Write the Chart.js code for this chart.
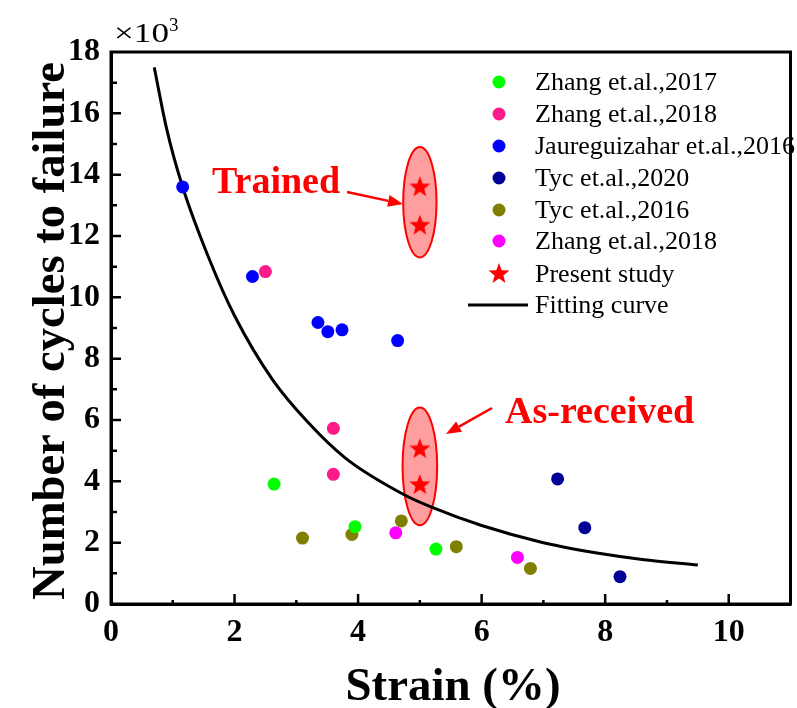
<!DOCTYPE html>
<html>
<head>
<meta charset="utf-8">
<script src="https://cdn.jsdelivr.net/npm/chart.js@4.4.1/dist/chart.umd.min.js"></script>
<style>
  html, body { margin: 0; padding: 0; background: #fff; }
  #wrap { width: 797px; height: 708px; position: relative; }
</style>
</head>
<body>
<div id="wrap"><canvas id="chart-fatigue"></canvas></div>
<script>
// fatigue life vs strain, literature data + present study
const zhang2017X = [2.64, 3.95, 5.26];
const zhang2017Y = [3.91, 2.52, 1.79];
const zhang2018aX = [2.50, 3.60, 3.60];
const zhang2018aY = [10.84, 5.73, 4.23];
const jaureX = [1.16, 2.29, 3.35, 3.51, 3.74, 4.64];
const jaureY = [13.60, 10.68, 9.18, 8.88, 8.94, 8.59];
const tyc2020X = [7.23, 7.67, 8.24];
const tyc2020Y = [4.08, 2.49, 0.89];
const tyc2016X = [3.10, 3.90, 4.70, 5.59, 6.79];
const tyc2016Y = [2.15, 2.27, 2.71, 1.87, 1.16];
const zhang2018bX = [4.61, 6.58];
const zhang2018bY = [2.32, 1.52];
const presentX = [5.0, 5.0, 5.0, 5.0];
const presentY = [13.62, 12.37, 5.08, 3.91];
const fitX = [0.7, 0.9, 1.16, 1.6, 2.0, 2.62, 3.2, 3.8, 4.73, 5.2, 6.0, 7.0, 8.0, 8.6, 9.5];
const fitY = [17.5, 15.5, 13.6, 11.2, 9.4, 7.3, 5.9, 4.75, 3.58, 3.15, 2.56, 2.0, 1.62, 1.45, 1.27];

const X_TICKS = [0, 2, 4, 6, 8, 10];
const Y_TICKS = [0, 2, 4, 6, 8, 10, 12, 14, 16, 18];

const SERIF = '"Liberation Serif", "Times New Roman", serif';

const pts = (xs, ys) => xs.map((x, i) => ({ x, y: ys[i] }));

// filled five-point star used as point style
function makeStar(size, color) {
  const c = document.createElement('canvas');
  c.width = size; c.height = size;
  const g = c.getContext('2d');
  const cx = size / 2, cy = size / 2 + 1, R = size / 2, r = R * 0.42;
  g.beginPath();
  for (let i = 0; i < 10; i++) {
    const rad = i % 2 ? r : R;
    const a = -Math.PI / 2 + i * Math.PI / 5;
    g.lineTo(cx + rad * Math.cos(a), cy + rad * Math.sin(a));
  }
  g.closePath();
  g.fillStyle = color;
  g.fill();
  return c;
}
const STAR = makeStar(22, '#ff0000');

const SERIES = [
  { label: 'Zhang et.al.,2017', color: '#00ff00', data: pts(zhang2017X, zhang2017Y) },
  { label: 'Zhang et.al.,2018', color: '#ff1a8c', data: pts(zhang2018aX, zhang2018aY) },
  { label: 'Jaureguizahar et.al.,2016', color: '#0000ff', data: pts(jaureX, jaureY) },
  { label: 'Tyc et.al.,2020', color: '#000099', data: pts(tyc2020X, tyc2020Y) },
  { label: 'Tyc et.al.,2016', color: '#808000', data: pts(tyc2016X, tyc2016Y) },
  { label: 'Zhang et.al.,2018', color: '#ff00ff', data: pts(zhang2018bX, zhang2018bY) },
];

const datasets = SERIES.map(s => ({
  label: s.label,
  data: s.data,
  backgroundColor: s.color,
  borderColor: s.color,
  pointRadius: 6.5,
  pointHoverRadius: 6.5,
  borderWidth: 0,
  order: 2,
}));
datasets.push({
  label: 'Present study',
  data: pts(presentX, presentY),
  pointStyle: STAR,
  backgroundColor: '#ff0000',
  order: 0,
});
datasets.push({
  label: 'Fitting curve',
  data: pts(fitX, fitY),
  showLine: true,
  borderColor: '#000',
  borderWidth: 3,
  pointRadius: 0,
  cubicInterpolationMode: 'monotone',
  order: 3,
});

function fitText(ctx, text, x, y, width, rot, align) {
  ctx.save();
  ctx.translate(x, y);
  if (rot) ctx.rotate(rot);
  const w = ctx.measureText(text).width;
  ctx.scale(width / w, 1);
  ctx.textAlign = align || 'center';
  ctx.fillText(text, 0, 0);
  ctx.restore();
}

function arrow(ctx, x1, y1, x2, y2) {
  const a = Math.atan2(y2 - y1, x2 - x1);
  const hl = 15, hw = 6;
  const bx = x2 - hl * Math.cos(a), by = y2 - hl * Math.sin(a);
  ctx.beginPath();
  ctx.moveTo(x1, y1);
  ctx.lineTo(bx, by);
  ctx.stroke();
  ctx.beginPath();
  ctx.moveTo(x2, y2);
  ctx.lineTo(bx + hw * Math.sin(a), by - hw * Math.cos(a));
  ctx.lineTo(bx - hw * Math.sin(a), by + hw * Math.cos(a));
  ctx.closePath();
  ctx.fill();
}

// shaded ellipses around the present-study points
const ovalPlugin = {
  id: 'ovals',
  beforeDatasetsDraw(chart) {
    const { ctx, scales: { x, y } } = chart;
    const ovals = [[5.0, 13.1, 0.27, 1.8], [5.0, 4.49, 0.28, 1.92]];
    ctx.save();
    for (const [cx, cy, rx, ry] of ovals) {
      const px = x.getPixelForValue(cx), py = y.getPixelForValue(cy);
      const prx = x.getPixelForValue(cx + rx) - px;
      const pry = py - y.getPixelForValue(cy + ry);
      ctx.beginPath();
      ctx.ellipse(px, py, prx, pry, 0, 0, Math.PI * 2);
      ctx.fillStyle = 'rgba(255,40,40,0.45)';
      ctx.fill();
      ctx.lineWidth = 2;
      ctx.strokeStyle = '#ff0000';
      ctx.stroke();
    }
    ctx.restore();
  },
};

// frame, inward ticks, titles, annotations and legend
const decorPlugin = {
  id: 'decor',
  afterDraw(chart) {
    const { ctx, chartArea: a, scales: { x, y } } = chart;
    ctx.save();
    ctx.strokeStyle = '#000';
    ctx.lineWidth = 3;
    ctx.strokeRect(a.left, a.top, a.right - a.left, a.bottom - a.top);

    ctx.lineWidth = 2.5;
    ctx.beginPath();
    for (let v = 1; v <= 10; v++) {
      const px = x.getPixelForValue(v);
      const len = v % 2 ? 4 : 10;
      ctx.moveTo(px, a.bottom);
      ctx.lineTo(px, a.bottom - len);
    }
    for (let v = 1; v < 18; v++) {
      const py = y.getPixelForValue(v);
      const len = v % 2 ? 6 : 10;
      ctx.moveTo(a.left, py);
      ctx.lineTo(a.left + len, py);
    }
    ctx.stroke();

    // axis titles
    ctx.fillStyle = '#000';
    ctx.font = 'bold 46px ' + SERIF;
    ctx.textBaseline = 'alphabetic';
    fitText(ctx, 'Number of cycles to failure', 64, 331, 538, -Math.PI / 2);
    fitText(ctx, 'Strain (%)', 453, 700, 215, 0);

    ctx.font = '28px ' + SERIF;
    fitText(ctx, '\u00d710', 114, 42, 55, 0, 'left');
    ctx.textAlign = 'left';
    ctx.font = '19px ' + SERIF;
    ctx.fillText('3', 169, 31);

    // annotations
    ctx.fillStyle = '#ff0000';
    ctx.strokeStyle = '#ff0000';
    ctx.font = 'bold 38px ' + SERIF;
    ctx.fillText('Trained', 212, 193);
    ctx.fillText('As-received', 505, 423);
    ctx.lineWidth = 2.5;
    arrow(ctx, 347, 192, 403, 204);
    arrow(ctx, 492, 408, 446, 434);

    // legend
    ctx.font = '26px ' + SERIF;
    ctx.textBaseline = 'middle';
    const rows = [82, 114, 146, 178, 210, 241, 274, 305];
    SERIES.forEach((s, i) => {
      ctx.fillStyle = s.color;
      ctx.beginPath();
      ctx.arc(499, rows[i], 6.5, 0, Math.PI * 2);
      ctx.fill();
      ctx.fillStyle = '#000';
      ctx.fillText(s.label, 535, rows[i] + 1);
    });
    ctx.drawImage(STAR, 488, rows[6] - 12);
    ctx.fillStyle = '#000';
    ctx.fillText('Present study', 535, rows[6] + 1);
    ctx.lineWidth = 3;
    ctx.strokeStyle = '#000';
    ctx.beginPath();
    ctx.moveTo(468, rows[7]);
    ctx.lineTo(528, rows[7]);
    ctx.stroke();
    ctx.fillText('Fitting curve', 535, rows[7] + 1);
    ctx.restore();
  },
};

new Chart(document.getElementById('chart-fatigue'), {
  type: 'scatter',
  data: { datasets },
  plugins: [ovalPlugin, decorPlugin],
  options: {
    responsive: true,
    maintainAspectRatio: false,
    animation: false,
    layout: { padding: { top: 52, right: 2, left: 0, bottom: 0 } },
    plugins: { legend: { display: false }, tooltip: { enabled: false } },
    scales: {
      x: {
        min: 0, max: 11,
        afterFit: s => { s.height = 104; },
        afterBuildTicks: s => { s.ticks = X_TICKS.map(v => ({ value: v })); },
        grid: { display: false, drawTicks: false },
        border: { display: true, color: '#000', width: 3 },
        ticks: { padding: 10, color: '#000', font: { family: SERIF, size: 32, weight: 'bold' } },
      },
      y: {
        min: 0, max: 18,
        afterFit: s => { s.width = 111; },
        afterBuildTicks: s => { s.ticks = Y_TICKS.map(v => ({ value: v })); },
        grid: { display: false, drawTicks: false },
        border: { display: true, color: '#000', width: 3 },
        ticks: { padding: 11, color: '#000', font: { family: SERIF, size: 32, weight: 'bold' } },
      },
    },
  },
});
</script>
</body>
</html>
